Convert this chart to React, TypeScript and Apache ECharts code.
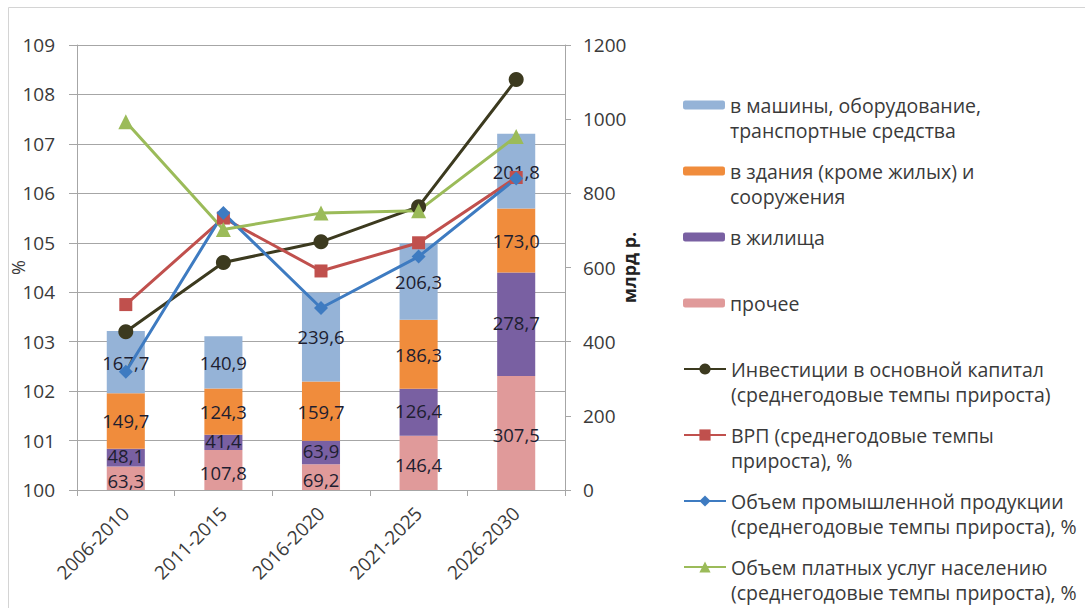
import React, { useEffect, useRef } from "react";
import * as echarts from "echarts";

const categories = ["2006-2010", "2011-2015", "2016-2020", "2021-2025", "2026-2030"];

// bars, млрд р.
const otherValues = [63.3, 107.8, 69.2, 146.4, 307.5];
const housingValues = [48.1, 41.4, 63.9, 126.4, 278.7];
const buildingsValues = [149.7, 124.3, 159.7, 186.3, 173.0];
const machineryValues = [167.7, 140.9, 239.6, 206.3, 201.8];

// lines, %
const investmentGrowth = [103.2, 104.6, 105.02, 105.73, 108.3];
const grpGrowth = [103.75, 105.5, 104.43, 105.0, 106.32];
const industrialGrowth = [102.39, 105.6, 103.68, 104.72, 106.3];
const servicesGrowth = [107.45, 105.27, 105.6, 105.65, 107.15];

const percentAxis = { min: 100, max: 109, interval: 1 };
const moneyAxis = { min: 0, max: 1200, interval: 200 };

const legendLines: string[][] = [
  ["в машины, оборудование,", "транспортные средства"],
  ["в здания (кроме жилых) и", "сооружения"],
  ["в жилища"],
  ["прочее"],
  ["Инвестиции в основной капитал", "(среднегодовые темпы прироста)"],
  ["ВРП (среднегодовые темпы", "прироста), %"],
  ["Объем промышленной продукции", "(среднегодовые темпы прироста), %"],
  ["Объем платных услуг населению", "(среднегодовые темпы прироста), %"],
];
const seriesNames = legendLines.map((l) => l.join(" "));

const FONT = "Open Sans";
const TEXT = "#3a3a3a";
const AXIS = "#a6a6a6";

const colors = {
  machinery: "#95b3d7",
  buildings: "#f08c3c",
  housing: "#7960a2",
  other: "#e09a9a",
  invest: "#3c3a1f",
  grp: "#c0504d",
  industrial: "#3e7bc1",
  services: "#9bbb59",
};

const fmt = (v: number) => v.toFixed(1).replace(".", ",");

export default function App() {
  const ref = useRef<HTMLDivElement>(null);
  useEffect(() => {
    if (!ref.current) return;
    const chart = echarts.init(ref.current, undefined, { renderer: "svg" });
    const fontSize = 19;
    const legendFont = 19.5;
    const lh = 25;
    const legendStart = 105;
    const legendStep = 66;

    const barSeries = [
      { name: seriesNames[3], data: otherValues, color: colors.other, dy: 2 },
      { name: seriesNames[2], data: housingValues, color: colors.housing, dy: -2 },
      { name: seriesNames[1], data: buildingsValues, color: colors.buildings, dy: 0 },
      { name: seriesNames[0], data: machineryValues, color: colors.machinery, dy: 0 },
    ].map((s) => ({
      name: s.name,
      type: "bar",
      stack: "inv",
      yAxisIndex: 1,
      barWidth: "39%",
      data: s.data,
      itemStyle: { color: s.color },
      label: {
        show: true,
        position: "inside",
        offset: [0, s.dy],
        formatter: (p: any) => fmt(p.value),
        color: "#1e1e30",
        fontFamily: FONT,
        fontSize: 18.5,
        lineHeight: 18,
      },
      z: 2,
    }));

    const lineDefs = [
      { name: seriesNames[4], data: investmentGrowth, color: colors.invest, symbol: "circle", size: 15 },
      { name: seriesNames[5], data: grpGrowth, color: colors.grp, symbol: "rect", size: 13 },
      { name: seriesNames[6], data: industrialGrowth, color: colors.industrial, symbol: "diamond", size: 14 },
      { name: seriesNames[7], data: servicesGrowth, color: colors.services, symbol: "triangle", size: 15 },
    ];
    const lineSeries = lineDefs.map((s) => ({
      name: s.name,
      type: "line",
      yAxisIndex: 0,
      data: s.data,
      symbol: s.symbol,
      symbolSize: s.size,
      itemStyle: { color: s.color },
      lineStyle: { color: s.color, width: 3 },
      z: 3,
    }));

    const legends = legendLines.map((lines, i) => {
      const isBar = i < 4;
      const y1 = legendStart + i * legendStep;
      const two = lines.length === 2;
      return {
        data: [seriesNames[i]],
        orient: "vertical",
        left: 683,
        top: y1 - (two ? 1.5 : 0.5) * lh,
        padding: 0,
        itemWidth: 42,
        itemHeight: isBar ? 9 : 14,
        selectedMode: false,
        formatter: () => (two ? "\n" + lines.join("\n") : lines[0]),
        textStyle: { fontFamily: FONT, fontSize: legendFont, color: TEXT, lineHeight: lh },
      };
    });

    chart.setOption({
      animation: false,
      backgroundColor: "#ffffff",
      textStyle: { fontFamily: FONT },
      grid: { left: 77, right: 520, top: 45, bottom: 118 },
      graphic: [
        {
          type: "rect",
          shape: { x: 8.5, y: 7.5, width: 1200, height: 800 },
          style: { fill: "none", stroke: "#d4d4d4", lineWidth: 1 },
          silent: true,
        },
      ],
      legend: legends,
      xAxis: {
        type: "category",
        data: categories,
        boundaryGap: true,
        axisLine: { lineStyle: { color: AXIS, width: 1 } },
        axisTick: { show: true, length: 6, lineStyle: { color: AXIS } },
        axisLabel: {
          rotate: 45,
          interval: 0,
          margin: 20,
          fontFamily: FONT,
          fontSize: fontSize,
          color: TEXT,
        },
      },
      yAxis: [
        {
          type: "value",
          position: "left",
          ...percentAxis,
          name: "%",
          nameLocation: "middle",
          nameRotate: 90,
          nameGap: 50,
          nameMoveOverlap: false,
          nameTextStyle: { fontFamily: FONT, fontSize: fontSize - 1, color: TEXT },
          axisLine: { show: true, lineStyle: { color: AXIS } },
          axisTick: { show: true, length: 8, lineStyle: { color: AXIS } },
          splitLine: { show: true, lineStyle: { color: AXIS } },
          axisLabel: { margin: 22, fontFamily: FONT, fontSize: fontSize, color: TEXT },
        },
        {
          type: "value",
          position: "right",
          ...moneyAxis,
          name: "млрд р.",
          nameLocation: "middle",
          nameRotate: 90,
          nameGap: 55,
          nameMoveOverlap: false,
          nameTextStyle: { fontFamily: FONT, fontSize: fontSize - 1, color: "#222", fontWeight: "bold" },
          axisLine: { show: true, lineStyle: { color: AXIS } },
          axisTick: { show: true, length: 6, lineStyle: { color: AXIS } },
          splitLine: { show: false },
          axisLabel: {
            margin: 18,
            fontFamily: FONT,
            fontSize: fontSize,
            color: TEXT,
            formatter: (v: number) => String(v),
          },
        },
      ],
      series: [...barSeries, ...lineSeries],
    });
    return () => chart.dispose();
  }, []);
  return (
    <div
      ref={ref}
      style={{ position: "absolute", left: 0, top: 0, width: 1085, height: 608 }}
    />
  );
}
